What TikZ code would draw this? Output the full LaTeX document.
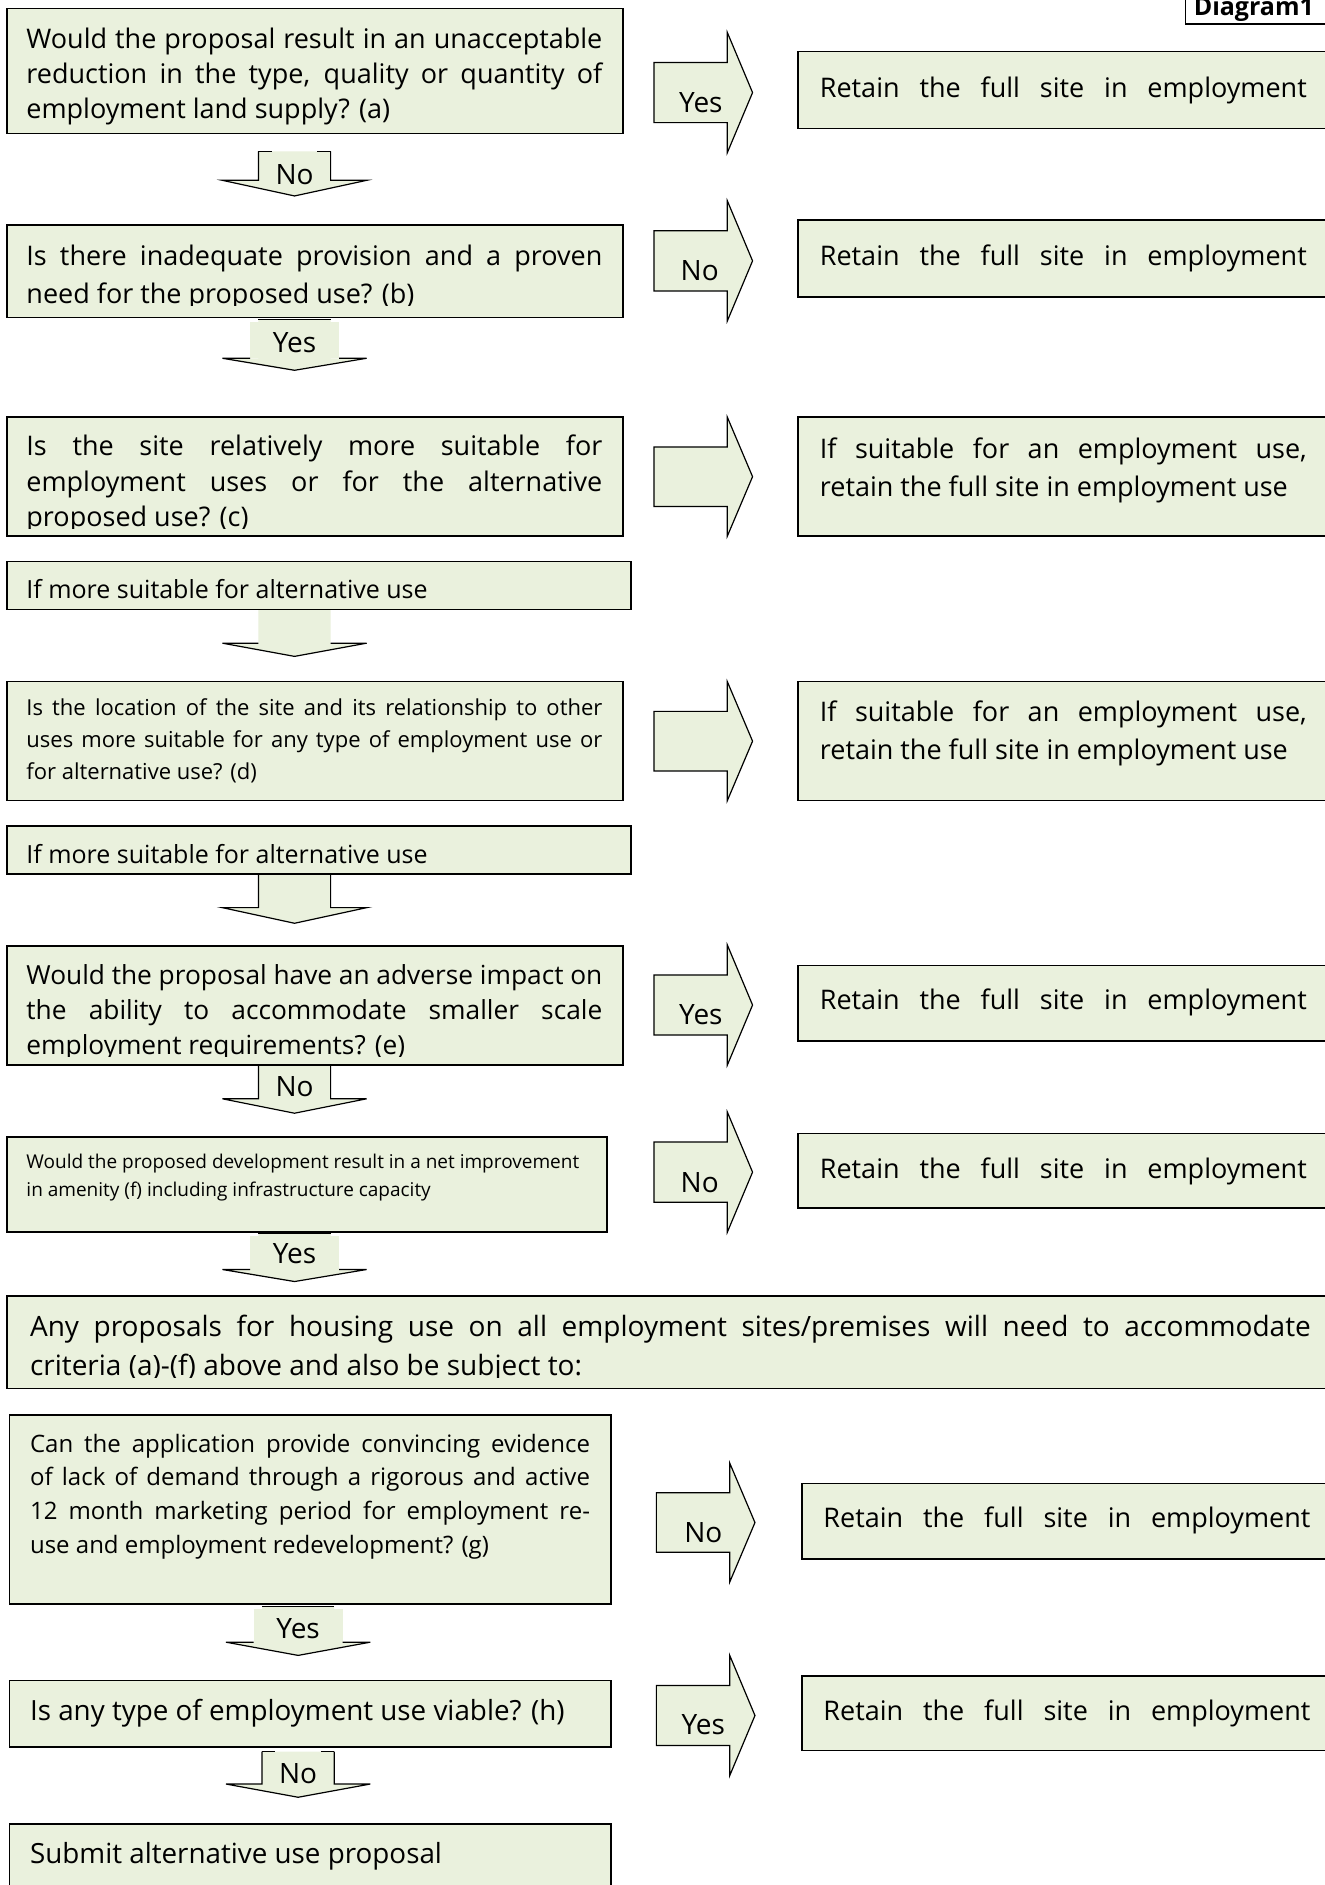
\documentclass[tikz,border=0pt]{standalone}
\usepackage{fontspec}
\setmainfont{Open Sans}
\definecolor{bg}{HTML}{EAF1DD}
\newcommand\jl[1]{\makebox[\linewidth][s]{#1}}
\newcommand\fs[2]{\fontsize{#1}{#2}\selectfont}
\newcommand\rarw[3]{%
  \pgfmathsetmacro\ya{#2+0.25*(#3-#2)}%
  \pgfmathsetmacro\yb{#3-0.25*(#3-#2)}%
  \pgfmathsetmacro\ym{(#2+#3)/2}%
  \pgfmathsetmacro\xa{#1+61}%
  \pgfmathsetmacro\xb{#1+82}%
  \filldraw[ar] (#1,\ya) -- (\xa,\ya) -- (\xa,#2) -- (\xb,\ym) -- (\xa,#3) -- (\xa,\yb) -- (#1,\yb) -- cycle;}
% down arrow: cx, top, headbase, tip, type (N,Y,P,S)
\newcommand\darw[5]{%
  \pgfmathsetmacro\xl{#1-30}\pgfmathsetmacro\xr{#1+30}%
  \pgfmathsetmacro\xL{#1-60}\pgfmathsetmacro\xR{#1+60}%
  \pgfmathsetmacro\xll{#1-37}\pgfmathsetmacro\xrr{#1+37}%
  \fill[bg] (\xl,#2) -- (\xl,#3) -- (\xL,#3) -- (#1,#4) -- (\xR,#3) -- (\xr,#3) -- (\xr,#2) -- cycle;
  \ifx N#5
    \draw[edge] (\xl,#2) -- (\xl,#3) -- (\xL,#3) -- (#1,#4) -- (\xR,#3) -- (\xr,#3) -- (\xr,#2);
    \pgfmathsetmacro\ta{#1-19}\pgfmathsetmacro\tb{#1+19}%
    \draw[edge] (\xl,#2) -- (\ta,#2) (\tb,#2) -- (\xr,#2);
  \fi
  \ifx S#5
    \draw[edge] (\xl,#2) -- (\xl,#3) -- (\xL,#3) -- (#1,#4) -- (\xR,#3) -- (\xr,#3) -- (\xr,#2);
  \fi
  \ifx P#5
    \draw[edge] (\xl,#3) -- (\xL,#3) -- (#1,#4) -- (\xR,#3) -- (\xr,#3);
  \fi
  \ifx Y#5
    \pgfmathsetmacro\tt{#2+2}%
    \fill[bg] (\xll,\tt) rectangle (\xrr,#3);
    \draw[edge] (\xll,#3) -- (\xL,#3) -- (#1,#4) -- (\xR,#3) -- (\xrr,#3);
    \draw[edge] (\xl,#2) -- (\xr,#2);
  \fi}
\begin{document}
\begin{tikzpicture}[x=1.2024pt,y=-1.2024pt,
  bx/.style={draw=black,line width=1.6pt,fill=bg},
  ar/.style={draw=black,line width=1.2pt,fill=bg},
  edge/.style={draw=black,line width=1.2pt},
  txt/.style={anchor=base west,inner sep=0pt,outer sep=0pt},
  lab/.style={inner sep=0pt,font=\fs{28}{30}}]
\useasboundingbox (0,0) rectangle (1102,1568);
\fill[white] (0,0) rectangle (1102,1568);

% down arrows (drawn first, boxes over them)
\darw{245}{126}{150}{163}{N}
\darw{245}{266}{298}{308}{Y}
\darw{245}{507}{535}{546}{P}
\darw{245}{727}{755}{768}{S}
\darw{245}{886}{914}{926}{S}
\darw{245}{1026}{1056}{1066}{Y}
\darw{248}{1336}{1366}{1377}{Y}
\darw{248}{1457}{1484}{1495}{N}

% right arrows
\rarw{544}{27}{127}
\rarw{544}{167}{267}
\rarw{544}{347}{446}
\rarw{544}{567}{666}
\rarw{544}{786}{886}
\rarw{544}{925}{1025}
\rarw{546}{1217}{1316}
\rarw{546}{1377}{1477}

% left boxes
\draw[bx] (6,7) rectangle (518,111);
\draw[bx] (6,187) rectangle (518,264);
\draw[bx] (6,347) rectangle (518,446);
\draw[bx] (6,467) rectangle (525,507);
\draw[bx] (6,567) rectangle (518,666);
\draw[bx] (6,687) rectangle (525,727);
\draw[bx] (6,787) rectangle (518,886);
\draw[bx] (6,946) rectangle (505,1025);
\draw[bx] (6,1078) rectangle (1110,1155);
\draw[bx] (8,1177) rectangle (508,1334);
\draw[bx] (8,1398) rectangle (508,1453);
\draw[bx] (8,1517) rectangle (508,1580);
% right boxes
\draw[bx] (664,43) rectangle (1110,107);
\draw[bx] (664,183) rectangle (1110,247);
\draw[bx] (664,347) rectangle (1110,446);
\draw[bx] (664,567) rectangle (1110,666);
\draw[bx] (664,803) rectangle (1110,866);
\draw[bx] (664,943) rectangle (1110,1005);
\draw[bx] (667,1234) rectangle (1110,1297);
\draw[bx] (667,1394) rectangle (1110,1456);
% Diagram1
\draw[line width=1.2pt,fill=white] (986,-5) rectangle (1115,20);
\node[txt,font=\fs{25}{30}\bfseries] (dg) at (993,13) {Diagram1};

% texts
\node[txt] (qa) at (22,40) {\parbox[t]{576pt}{\fs{27}{35}%
\jl{Would the proposal result in an unacceptable}\\
\jl{reduction in the type, quality or quantity of}\\
employment land supply? (a)}};
\begin{scope}
\clip (6,187) rectangle (518,254.5);
\node[txt] (qb) at (22,221) {\parbox[t]{576pt}{\fs{27}{38}%
\jl{Is there inadequate provision and a proven}\\
need for the proposed use? (b)}};
\end{scope}
\begin{scope}
\clip (6,347) rectangle (518,439.5);
\node[txt] (qc) at (22,379) {\parbox[t]{576pt}{\fs{27}{35.5}%
\jl{Is the site relatively more suitable for}\\
\jl{employment uses or for the alternative}\\
proposed use? (c)}};
\end{scope}
\begin{scope}
\clip (6,467) rectangle (525,499.5);
\node[txt] (m1) at (22,498) {\fs{25}{35}If more suitable for alternative use};
\end{scope}
\node[txt] (qd) at (22,595) {\parbox[t]{576pt}{\fs{22}{32}%
\jl{Is the location of the site and its relationship to other}\\
\jl{uses more suitable for any type of employment use or}\\
for alternative use? (d)}};
\begin{scope}
\clip (6,687) rectangle (525,719.5);
\node[txt] (m2) at (22,718) {\fs{25}{35}If more suitable for alternative use};
\end{scope}
\begin{scope}
\clip (6,787) rectangle (518,878.5);
\node[txt] (qe) at (22,819) {\parbox[t]{576pt}{\fs{26.3}{35}%
\jl{Would the proposal have an adverse impact on}\\
\jl{the ability to accommodate smaller scale}\\
employment requirements? (e)}};
\end{scope}
\node[txt] (qf) at (22,972) {\parbox[t]{576pt}{\fs{19}{27.7}%
Would the proposed development result in a net improvement\\
in amenity (f) including infrastructure capacity}};
\begin{scope}
\clip (6,1078) rectangle (1110,1146);
\node[txt] (qany) at (25,1112) {\parbox[t]{1281pt}{\fs{28}{38.5}%
\jl{Any proposals for housing use on all employment sites/premises will need to accommodate}\\
criteria (a)-(f) above and also be subject to:}};
\end{scope}
\node[txt] (qg) at (25,1208) {\parbox[t]{560pt}{\fs{24}{33.7}%
\jl{Can the application provide convincing evidence}\\
\jl{of lack of demand through a rigorous and active}\\
\jl{12 month marketing period for employment re-}\\
use and employment redevelopment? (g)}};
\node[txt] (qh) at (25,1431) {\fs{27.8}{35}Is any type of employment use viable? (h)};
\node[txt] (qs) at (25,1550) {\fs{27.8}{35}Submit alternative use proposal};

% right texts
\node[txt] (r1) at (682,81) {\parbox[t]{487pt}{\fs{27}{35}\jl{Retain the full site in employment}}};
\node[txt] (r2) at (682,221) {\parbox[t]{487pt}{\fs{27}{35}\jl{Retain the full site in employment}}};
\node[txt] (r3) at (682,381) {\parbox[t]{487pt}{\fs{27}{38.5}\jl{If suitable for an employment use,}\\ retain the full site in employment use}};
\node[txt] (r4) at (682,600) {\parbox[t]{487pt}{\fs{27}{38.5}\jl{If suitable for an employment use,}\\ retain the full site in employment use}};
\node[txt] (r5) at (682,840) {\parbox[t]{487pt}{\fs{27}{35}\jl{Retain the full site in employment}}};
\node[txt] (r6) at (682,980) {\parbox[t]{487pt}{\fs{27}{35}\jl{Retain the full site in employment}}};
\node[txt] (r7) at (685,1271) {\parbox[t]{487pt}{\fs{27}{35}\jl{Retain the full site in employment}}};
\node[txt] (r8) at (685,1431) {\parbox[t]{487pt}{\fs{27}{35}\jl{Retain the full site in employment}}};

% arrow labels
\node[lab] (l1) at (245,145) {No};
\node[lab] (l2) at (245,285) {Yes};
\node[lab] (l3) at (245,904) {No};
\node[lab] (l4) at (245,1043) {Yes};
\node[lab] (l5) at (248,1355) {Yes};
\node[lab] (l6) at (248,1475) {No};
\node[lab] (k1) at (583,85) {Yes};
\node[lab] (k2) at (582,225) {No};
\node[lab] (k3) at (583,844) {Yes};
\node[lab] (k4) at (582,984) {No};
\node[lab] (k5) at (585,1275) {No};
\node[lab] (k6) at (585,1435) {Yes};
\end{tikzpicture}
\end{document}
